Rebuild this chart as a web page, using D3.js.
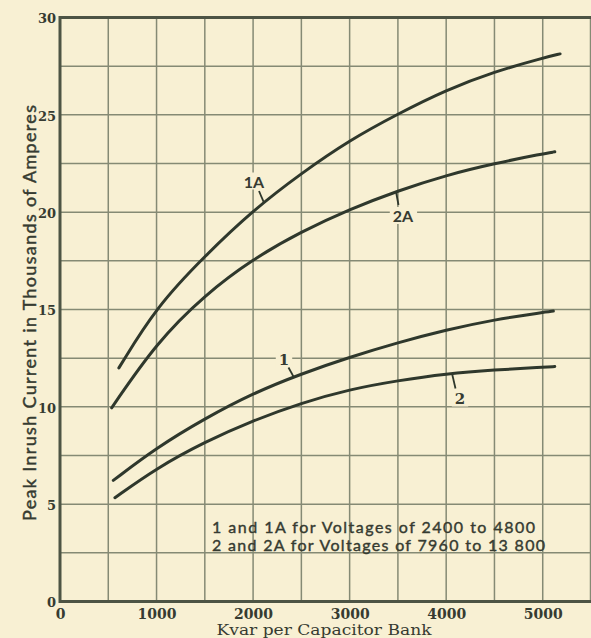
<!DOCTYPE html>
<html>
<head>
<meta charset="utf-8">
<script src="https://cdn.jsdelivr.net/npm/d3@7"></script>
<style>
  html, body { margin: 0; padding: 0; background: #f8f0d3; }
  svg { display: block; }
</style>
</head>
<body>
<svg id="chart" width="591" height="638"></svg>
<script>
// ---- data ----
const seriesNames = ["1A", "2A", "1", "2"];
const kvar1A = [610, 1000, 1500, 2000, 2500, 3000, 3500, 4000, 4500, 5000, 5180];
const amps1A = [12.0, 15.15, 17.75, 20.1, 22.0, 23.7, 25.05, 26.28, 27.22, 27.92, 28.13];
const kvar2A = [535, 1000, 1500, 2000, 2500, 3000, 3500, 4000, 4500, 5000, 5125];
const amps2A = [9.95, 13.3, 15.75, 17.6, 19.0, 20.15, 21.1, 21.9, 22.5, 23.0, 23.1];
const kvar1 = [552, 1000, 1500, 2000, 2500, 3000, 3500, 4000, 4500, 5000, 5110];
const amps1 = [6.22, 7.9, 9.4, 10.7, 11.7, 12.55, 13.3, 13.95, 14.48, 14.85, 14.92];
const kvar2 = [569, 1000, 1500, 2000, 2500, 3000, 3500, 4000, 4500, 5000, 5125];
const amps2 = [5.33, 6.85, 8.2, 9.3, 10.2, 10.9, 11.35, 11.7, 11.9, 12.03, 12.07];
const xTickValues = [0, 1000, 2000, 3000, 4000, 5000];
const yTickValues = [0, 5, 10, 15, 20, 25, 30];
const xGridStep = 500;
const yGridStep = 2.5;
const xTitle = "Kvar per Capacitor Bank";
const yTitle = "Peak Inrush Current in Thousands of Amperes";
const legendLines = ["1 and 1A for Voltages of 2400 to 4800", "2 and 2A for Voltages of 7960 to 13 800"];

// ---- layout ----
const bg = "#f8f0d3";
const svg = d3.select("#chart");
const x = d3.scaleLinear().domain([0, 5500]).range([60, 591]);
const y = d3.scaleLinear().domain([0, 30]).range([601.5, 17.5]);

const gridCol = "#858a74";
const inkCol = "#2f382c";
const textCol = "#363b31";

// grid
const gx = d3.range(xGridStep, 5500 + 1, xGridStep);
const gy = d3.range(yGridStep, 30, yGridStep);
svg.append("g").selectAll("line").data(gx).join("line")
  .attr("x1", d => x(d)).attr("x2", d => x(d))
  .attr("y1", y(30)).attr("y2", y(0))
  .attr("stroke", gridCol).attr("stroke-width", d => d === 5500 ? 2.5 : 1.5);
svg.append("g").selectAll("line").data(gy).join("line")
  .attr("x1", x(0)).attr("x2", x(5500))
  .attr("y1", d => y(d)).attr("y2", d => y(d))
  .attr("stroke", gridCol).attr("stroke-width", 1.5);

// frame (left, top, bottom)
svg.append("path")
  .attr("d", `M${x(5500)},${y(30)}H${x(0)}V${y(0)}H${x(5500)}`)
  .attr("fill", "none").attr("stroke", "#4d5444").attr("stroke-width", 3);

// axes tick labels
const xAxis = d3.axisBottom(x).tickValues(xTickValues).tickSize(0).tickFormat(d3.format("d"));
const gxa = svg.append("g").attr("transform", `translate(0,${y(0)})`).call(xAxis);
gxa.select(".domain").remove();
gxa.selectAll("text").attr("y", 17.5).attr("dy", 0)
  .attr("font-family", "DejaVu Serif").attr("font-size", 14).attr("font-weight", "bold")
  .attr("fill", textCol);

const yAxis = d3.axisLeft(y).tickValues(yTickValues).tickSize(0);
const gya = svg.append("g").attr("transform", `translate(${x(0)},0)`).call(yAxis);
gya.select(".domain").remove();
gya.selectAll("text").attr("x", -4).attr("dy", "0.42em")
  .attr("font-family", "DejaVu Serif").attr("font-size", 13).attr("font-weight", "bold")
  .attr("fill", textCol);

// titles
svg.append("text").attr("x", 324).attr("y", 635).attr("text-anchor", "middle")
  .attr("font-family", "DejaVu Serif").attr("font-size", 15).attr("fill", textCol)
  .attr("textLength", 215).attr("lengthAdjust", "spacingAndGlyphs")
  .text(xTitle);
svg.append("text").attr("transform", "translate(35.5,313) rotate(-90)").attr("text-anchor", "middle")
  .attr("font-family", "Lato").attr("font-size", 18).attr("fill", textCol)
  .attr("stroke", textCol).attr("stroke-width", 0.45)
  .attr("textLength", 416).attr("lengthAdjust", "spacing")
  .text(yTitle);

// curves
const seriesData = [
  d3.zip(kvar1A, amps1A),
  d3.zip(kvar2A, amps2A),
  d3.zip(kvar1, amps1),
  d3.zip(kvar2, amps2)
];
const line = d3.line().x(d => x(d[0])).y(d => y(d[1])).curve(d3.curveBasis);

// label annotations
const labelSpecs = [
  { name: "1A", at: 2110, tx: 254, ty: 187.5, lx1: 259, ly1: 191, font: "Lato", size: 16 },
  { name: "2A", at: 3480, tx: 403, ty: 222, lx1: 398.5, ly1: 205, font: "Lato", size: 16 },
  { name: "1", at: 2420, tx: 284, ty: 365, lx1: 288.5, ly1: 367.5, font: "DejaVu Serif", size: 15 },
  { name: "2", at: 4060, tx: 460, ty: 403.5, lx1: 455.5, ly1: 388.5, font: "DejaVu Serif", size: 15 }
];

const labelG = svg.append("g");
labelSpecs.forEach(s => {
  const t = labelG.append("text").attr("x", s.tx).attr("y", s.ty).attr("text-anchor", "middle")
    .attr("font-family", s.font).attr("font-size", s.size).attr("font-weight", "bold")
    .attr("fill", textCol).text(s.name);
  const bb = t.node().getBBox();
  labelG.insert("rect", () => t.node()).attr("x", bb.x - 3).attr("y", bb.y + 1).attr("width", bb.width + 6)
    .attr("height", bb.height - 2).attr("fill", bg);
});

svg.append("g").selectAll("path").data(seriesData).join("path")
  .attr("d", line).attr("fill", "none").attr("stroke", inkCol)
  .attr("stroke-width", 3).attr("stroke-linecap", "round");

// leader ticks
labelSpecs.forEach(s => {
  const d = seriesData[seriesNames.indexOf(s.name)];
  const xs = d.map(p => p[0]), ys = d.map(p => p[1]);
  const idx = d3.bisectLeft(xs, s.at);
  const t = (s.at - xs[idx - 1]) / (xs[idx] - xs[idx - 1]);
  const v = ys[idx - 1] + t * (ys[idx] - ys[idx - 1]);
  svg.append("line").attr("x1", s.lx1).attr("y1", s.ly1)
    .attr("x2", x(s.at)).attr("y2", y(v))
    .attr("stroke", inkCol).attr("stroke-width", 1.8);
});

// legend text
const legendG = svg.append("g");
legendLines.forEach((txt, i) => {
  legendG.append("text").attr("x", 212).attr("y", 533 + i * 18)
    .attr("font-family", "Lato").attr("font-size", 16).attr("fill", textCol)
    .attr("stroke", textCol).attr("stroke-width", 0.4)
    .attr("textLength", i === 0 ? 323 : 333).attr("lengthAdjust", "spacing")
    .text(txt);
});
</script>
</body>
</html>
